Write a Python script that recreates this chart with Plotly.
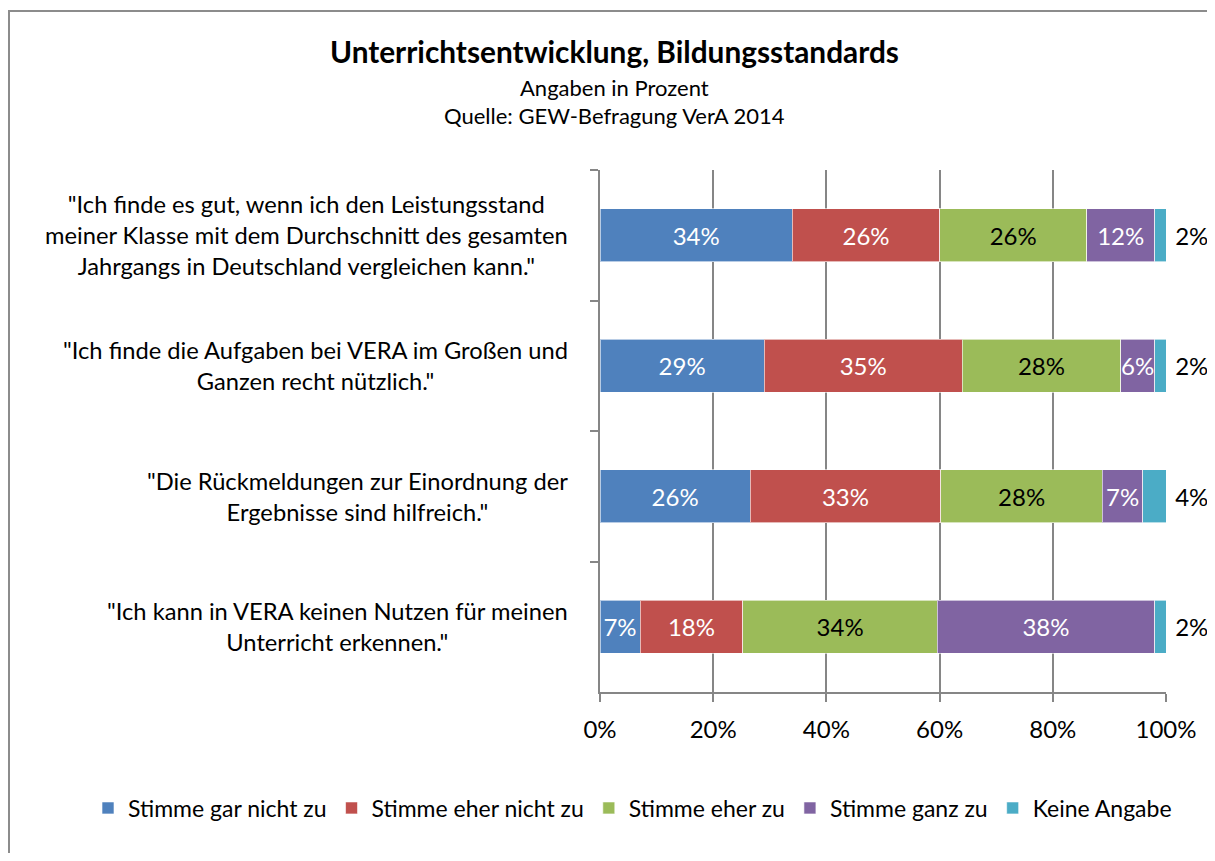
import plotly.graph_objects as go

categories = [
    '"Ich finde es gut, wenn ich den Leistungsstand<br>meiner Klasse mit dem Durchschnitt des gesamten<br>Jahrgangs in Deutschland vergleichen kann."',
    '"Ich finde die Aufgaben bei VERA im Großen und<br>Ganzen recht nützlich."',
    '"Die Rückmeldungen zur Einordnung der<br>Ergebnisse sind hilfreich."',
    '"Ich kann in VERA keinen Nutzen für meinen<br>Unterricht erkennen."',
]
series_names = ["Stimme gar nicht zu", "Stimme eher nicht zu", "Stimme eher zu", "Stimme ganz zu", "Keine Angabe"]
gar_nicht = [34, 29, 26, 7]
eher_nicht = [26, 35, 33, 18]
eher_zu = [26, 28, 28, 34]
ganz_zu = [12, 6, 7, 38]
keine_angabe = [2, 2, 4, 2]
x_ticks = [0, 20, 40, 60, 80, 100]
x_tick_labels = ["0%", "20%", "40%", "60%", "80%", "100%"]

values = [gar_nicht, eher_nicht, eher_zu, ganz_zu, keine_angabe]
colors = ["#4F81BD", "#C0504D", "#9BBB59", "#8064A2", "#4BACC6"]
text_colors = ["white", "white", "black", "white", "black"]

FONT = "Lato"
FS = 24
keys = [f"c{i}" for i in range(len(categories))]

fig = go.Figure()
for i, (name, vals) in enumerate(zip(series_names, values)):
    last = i == len(series_names) - 1
    fig.add_trace(go.Bar(
        y=keys, x=vals, name=name, orientation="h",
        marker=dict(color=colors[i], line=dict(color="rgba(255,255,255,0.6)", width=1)),
        text=[("\u00a0" if last else "") + f"{v}%" for v in vals],
        textposition="outside" if last else "inside",
        insidetextanchor="middle",
        textangle=0,
        constraintext="none",
        cliponaxis=False,
        textfont=dict(color=text_colors[i], size=FS, family=FONT),
        hoverinfo="skip",
    ))

# page body has an 8px margin: figure pixel = reference pixel - 8
OFF = 8
W, H = 1215 - 2 * OFF, 861 - 2 * OFF
L = 600 - OFF
T = 170 - OFF
R = W - (1166 - OFF)
B = H - (692 - OFF)
pw, ph = W - L - R, H - T - B

def px(x):
    return (x - OFF - L) / pw

def py(y):
    return (H - B - (y - OFF)) / ph

annotations = [
    dict(text="<b>Unterrichtsentwicklung, Bildungsstandards</b>", x=px(614), y=py(51),
         xref="paper", yref="paper", showarrow=False, font=dict(size=29.8, family=FONT, color="black"),
         xanchor="center", yanchor="middle"),
    dict(text="Angaben in Prozent", x=px(614), y=py(87),
         xref="paper", yref="paper", showarrow=False, font=dict(size=22, family=FONT, color="black"),
         xanchor="center", yanchor="middle"),
    dict(text="Quelle: GEW-Befragung VerA 2014", x=px(614), y=py(115),
         xref="paper", yref="paper", showarrow=False, font=dict(size=22, family=FONT, color="black"),
         xanchor="center", yanchor="middle"),
]
for k, c in zip(keys, categories):
    annotations.append(dict(text=c, x=0, y=k, xref="paper", yref="y", xshift=-30,
                            showarrow=False, xanchor="right", yanchor="middle", align="center",
                            font=dict(size=23.7, family=FONT, color="black")))

fig.update_layout(
    width=W, height=H,
    margin=dict(l=L, r=R, t=T, b=B, autoexpand=False),
    barmode="stack", barnorm="percent", bargap=0.594,
    paper_bgcolor="white", plot_bgcolor="white",
    font=dict(family=FONT, size=FS, color="black"),
    uniformtext=dict(minsize=FS, mode="show"),
    showlegend=True,
    legend=dict(orientation="h", x=px(102 - 14), xanchor="left", y=py(808), yanchor="middle",
                font=dict(size=23, family=FONT), itemwidth=30, tracegroupgap=0,
                traceorder="normal", bgcolor="rgba(0,0,0,0)"),
    xaxis=dict(range=[0, 100], tickvals=x_ticks, ticktext=x_tick_labels,
               showgrid=True, gridcolor="#868686", gridwidth=1.5,
               showline=True, linecolor="#868686", linewidth=1.5,
               ticks="outside", ticklen=8, tickcolor="#868686", tickwidth=1.5,
               ticklabelstandoff=7, tickfont=dict(size=FS, family=FONT),
               zeroline=False, fixedrange=True),
    yaxis=dict(categoryorder="array", categoryarray=keys, autorange="reversed",
               showticklabels=False, tickson="boundaries", ticks="outside", ticklen=8,
               tickcolor="#868686", tickwidth=1.5,
               showline=True, linecolor="#868686", linewidth=1.5, showgrid=False,
               fixedrange=True),
    annotations=annotations,
    shapes=[dict(type="rect", xref="paper", yref="paper",
                 x0=px(9), x1=px(1240), y0=py(890), y1=py(11),
                 line=dict(color="#8C8C8C", width=2), fillcolor="rgba(0,0,0,0)", layer="below")],
)

fig.write_html("out.html")
